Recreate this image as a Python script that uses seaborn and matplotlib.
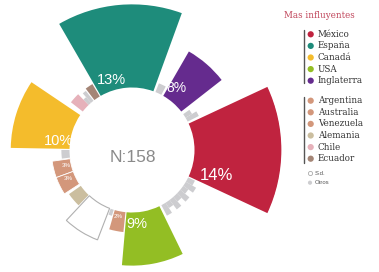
import numpy as np
import matplotlib
matplotlib.use("Agg")
import matplotlib.pyplot as plt
import seaborn as sns

# ---------------- data ----------------
categories = ["México", "España", "Canadá", "USA", "Inglaterra",
              "Argentina", "Australia", "Venezuela", "Alemania", "Chile", "Ecuador",
              "S.d.", "Otros"]
pct_labels = ["14%", "13%", "10%", "9%", "8%", "3%", "3%", "2%", "", "", "", "", ""]
total_n = 158
legend_title = "Mas influyentes"

# segments around the circle (counter-clockwise, starting at -25°)
seg_names = ["México", "Otros", "Otros", "Inglaterra", "Otros", "España", "Ecuador",
             "Otros", "Otros", "Chile", "Canadá", "Otros", "Argentina", "Australia",
             "Alemania", "S.d.", "Otros", "Venezuela", "USA",
             "Otros", "Otros", "Otros", "Otros", "Otros", "Otros", "Otros", "Otros"]
seg_values = [13.9, 2.0, 1.2, 8.2, 1.5, 13.3, 2.3,
              2.0, 1.2, 2.4, 9.4, 1.3, 2.9, 2.9,
              2.3, 5.4, 1.0, 3.2, 8.5,
              1.9, 1.0, 1.9, 1.0, 1.9, 1.0, 1.9, 1.2]
seg_widths = [50, 4, 4, 22, 6, 50, 6,
              3, 3, 8, 33, 7, 12, 13,
              11, 22, 3, 10, 31,
              4.5, 4.5, 4.5, 4.5, 4.5, 4.5, 4.5, 4.5]

# ---------------- layout / style ----------------
start_angle = -25
seg_gaps = [2, 0, 3, 2, 2, 1, 1,
            0, 0, 4, 1, 1, 0, 2,
            1, 1, 1, 1, 2,
            0, 0, 0, 0, 0, 0, 0, 1]
base = 10.0
rmax = 24.0

colors = {
    "México": "#C0233F", "España": "#1E8C7B", "Canadá": "#F4BC2C",
    "USA": "#93BE24", "Inglaterra": "#652B8E",
    "Argentina": "#D3977B", "Australia": "#D3977B", "Venezuela": "#D3977B",
    "Alemania": "#CBBE9F", "Chile": "#E6B1BA", "Ecuador": "#A48576",
    "S.d.": "#FFFFFF", "Otros": "#CDCDD0",
}
label_layout = {  # name: (fraction along bar, radius, fontsize)
    "México": (0.17, 14.1, 12), "España": (0.72, 11.7, 10.5),
    "Canadá": (0.82, 11.9, 10.5), "USA": (0.28, 11.9, 10.5),
    "Inglaterra": (0.73, 12.2, 10), "Argentina": (0.41, 10.8, 4.5),
    "Australia": (0.34, 11.2, 4.5), "Venezuela": (0.43, 10.8, 4.5),
}

sns.set_theme(style="white")
plt.rcParams["font.family"] = ["Liberation Sans", "DejaVu Sans"]

W, H = 379, 272
fig = plt.figure(figsize=(W / 100, H / 100), dpi=100)
cx, cy, R = 132, 150, 150
ax = fig.add_axes([(cx - R) / W, (H - cy - R) / H, 2 * R / W, 2 * R / H], projection="polar")
ax.set_theta_zero_location("E")
ax.set_theta_direction(1)
ax.set_ylim(0, rmax)
ax.set_axis_off()

label_of = dict(zip(categories, pct_labels))
theta = start_angle
for name, v, w, g in zip(seg_names, seg_values, seg_widths, seg_gaps):
    center = np.deg2rad(theta + w / 2)
    if name == "S.d.":
        ax.bar(center, v, width=np.deg2rad(w), bottom=base, color="white",
               edgecolor="#B0B0B0", linewidth=0.8)
    else:
        ax.bar(center, v, width=np.deg2rad(w), bottom=base, color=colors[name],
               edgecolor="white" if name in ("Argentina", "Australia") else "none",
               linewidth=0.6)
    if name in label_layout and label_of.get(name):
        frac, rr, fs = label_layout[name]
        ax.text(np.deg2rad(theta + frac * w), rr, label_of[name], ha="center",
                va="center", color="white", fontsize=fs)
    theta += w + g

# overlay for centre text and legend
ov = fig.add_axes([0, 0, 1, 1])
ov.set_xlim(0, W)
ov.set_ylim(H, 0)
ov.set_axis_off()
ov.patch.set_alpha(0)

ov.text(133, 158, f"N:{total_n}", ha="center", va="center", fontsize=12.5, color="#8A8A8A")

serif = ["DejaVu Serif"]
ov.text(319, 16, legend_title, ha="center", va="center", fontsize=6.3,
        color="#C0455A", family=serif)

group1 = categories[:5]
group2 = categories[5:11]
y1 = [34.3 + 11.6 * i for i in range(len(group1))]
y2 = [100.7 + 11.6 * i for i in range(len(group2))]
ov.plot([304, 304], [30, 83], color="#555555", lw=1)
ov.plot([304, 304], [97, 163], color="#555555", lw=1)
for names, ys in ((group1, y1), (group2, y2)):
    for nm, yy in zip(names, ys):
        ov.scatter([310.7], [yy], s=20, color=colors[nm], edgecolor="none")
        ov.text(318, yy, nm, ha="left", va="center", fontsize=6.3,
                color="#333333", family=serif)

ov.scatter([310], [173.3], s=9, facecolor="white", edgecolor="#AAAAAA", linewidth=0.6)
ov.text(315, 173.3, categories[11], ha="left", va="center", fontsize=4.3, color="#555555")
ov.scatter([310], [182.7], s=9, color=colors["Otros"], edgecolor="none")
ov.text(315, 182.7, categories[12], ha="left", va="center", fontsize=4.3, color="#555555")

fig.savefig("out.png", dpi=100, facecolor="white")
